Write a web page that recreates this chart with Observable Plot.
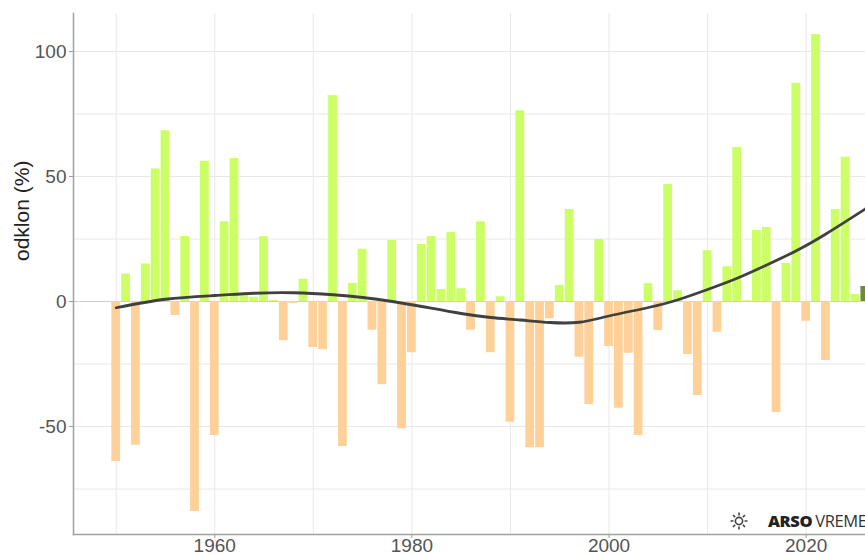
<!DOCTYPE html>
<html>
<head>
<meta charset="utf-8">
<script src="https://cdn.jsdelivr.net/npm/d3@7"></script>
<script src="https://cdn.jsdelivr.net/npm/@observablehq/plot@0.6"></script>
<style>
  html, body { margin: 0; padding: 0; background: #fff; }
  #wrap { position: relative; width: 865px; height: 555px; overflow: hidden; }
  #logo { position: absolute; left: 730px; top: 511px; height: 20px; font-family: "Open Sans", "DejaVu Sans", sans-serif; font-size: 16.5px; line-height: 20px; color: #333; white-space: nowrap; letter-spacing: -0.4px; display: flex; align-items: center; }
  #logo svg { margin-right: 20px; flex: none; }
  #logo b { font-weight: 800; color: #222; margin-right: 3px; }
</style>
</head>
<body>
<div id="wrap"><div id="chart"></div><div id="logo"><svg width="18" height="18" viewBox="-9 -9 18 18"><g stroke="#444" stroke-width="1.6" fill="none"><circle r="3.6"/><path d="M0,-5.5V-8.5M0,5.5V8.5M-5.5,0H-8.5M5.5,0H8.5M3.9,3.9L6,6M-3.9,-3.9L-6,-6M3.9,-3.9L6,-6M-3.9,3.9L-6,6"/></g></svg><b>ARSO</b>VREME</div></div>
<script>
const years = d3.range(1950, 2027);
const values = [
  -64, 11, -57.5, 15, 53, 68.3, -5.6, 26, -84, 56.1,
  -53.6, 31.9, 57.2, 2.3, 1.7, 25.9, 0.5, -15.7, -0.8, 8.9,
  -18.4, -19.3, 82.3, -58, 7.2, 20.9, -11.5, -33.3, 24.4, -50.9,
  -20.5, 22.8, 26, 4.8, 27.6, 5.1, -11.5, 31.9, -20.5, 1.9,
  -48.3, 76.3, -58.5, -58.5, -6.9, 6.4, 36.8, -22.3, -41.2, 24.8,
  -18, -42.7, -20.7, -53.6, 7.2, -11.6, 46.8, 4.3, -21.2, -37.6,
  20.3, -12.3, 13.9, 61.6, 0.3, 28.4, 29.6, -44.4, 15.2, 87.3,
  -7.9, 106.8, -23.6, 36.8, 57.7, 2.8, 6.0
];
const currentYear = 2026;

const trendYears = [1950, 1955, 1960, 1964, 1968, 1972, 1975, 1978, 1981, 1985, 1988, 1991, 1994, 1997, 2000, 2004, 2007, 2010, 2013, 2016, 2019, 2022, 2026];
const trendValues = [-2.5, 0.9, 2.4, 3.3, 3.5, 2.7, 1.6, 0, -2, -4.8, -6.4, -7.4, -8.4, -8.3, -5.8, -2.4, 0.7, 4.8, 9.3, 14.6, 20.3, 27, 37];

const yLabel = "odklon (%)";
const yLabelTicks = [-50, 0, 50, 100];
const yGridTicks = [-75, -50, -25, 25, 50, 75, 100];
const xLabelTicks = [1960, 1980, 2000, 2020];
const xGridTicks = [1950, 1960, 1970, 1980, 1990, 2000, 2010, 2020];

const bars = years.map((year, i) => ({year, value: values[i]}));
const trend = trendYears.map((year, i) => ({year, value: trendValues[i]}));

const colorOf = d => d.year === currentYear ? "#6e8b3d" : (d.value >= 0 ? "#ccff66" : "#ffd199");

const chart = Plot.plot({
  width: 865,
  height: 555,
  marginTop: 13,
  marginBottom: 21,
  marginLeft: 73,
  marginRight: 0,
  style: {fontFamily: "Liberation Sans, Arial, sans-serif", fontSize: "19px", background: "#fff"},
  x: {domain: [1945.67, 2026.02]},
  y: {domain: [-93.2, 115.2]},
  marks: [
    Plot.gridY(yGridTicks, {stroke: "#e8e8e8", strokeOpacity: 1, strokeWidth: 1}),
    Plot.gridX(xGridTicks, {stroke: "#e8e8e8", strokeOpacity: 1, strokeWidth: 1}),
    Plot.ruleY([0], {stroke: "#cfcfcf", strokeWidth: 1}),
    Plot.rectY(bars, {
      x1: d => d.year - 0.445,
      x2: d => d.year + 0.445,
      y: "value",
      fill: colorOf,
      clip: true
    }),
    Plot.line(trend, {x: "year", y: "value", curve: "natural", stroke: "#404040", strokeWidth: 2.8, clip: true}),
    Plot.axisY(yLabelTicks, {
      tickSize: 4, tickPadding: 3, fontSize: 19, fill: "#555", stroke: "#999",
      tickFormat: d => String(d), label: null
    }),
    Plot.axisX(xLabelTicks, {
      tickSize: 4, tickPadding: 0, fontSize: 19, fill: "#555", stroke: "#999",
      tickFormat: d => String(d), label: null
    }),
    Plot.text([yLabel], {
      frameAnchor: "left", dx: -51, dy: -13, rotate: -90,
      fontSize: 21, fill: "#222", text: d => d
    }),
    Plot.frame({anchor: "left", stroke: "#a0a0a0", strokeWidth: 1.5}),
    Plot.frame({anchor: "bottom", stroke: "#a0a0a0", strokeWidth: 1.5})
  ]
});
document.getElementById("chart").appendChild(chart);
</script>
</body>
</html>
